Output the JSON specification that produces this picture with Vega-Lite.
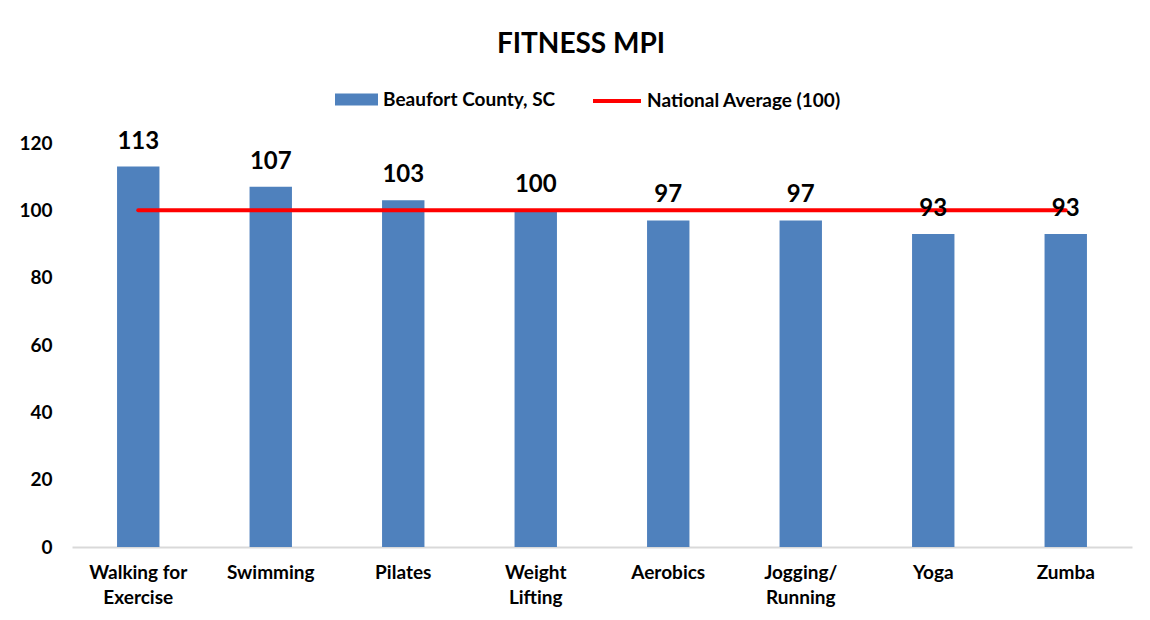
{
  "$schema": "https://vega.github.io/schema/vega-lite/v6.json",
  "width": 1060,
  "height": 404,
  "autosize": {"type": "none"},
  "padding": {"left": 72, "top": 143, "right": 18, "bottom": 73},
  "background": "white",
  "title": {
    "text": "FITNESS MPI",
    "font": "Lato",
    "fontSize": 28,
    "fontWeight": "bold",
    "color": "#000000",
    "anchor": "middle",
    "dx": -21,
    "offset": 16
  },
  "data": {
    "values": [
      {"activity": "Walking for Exercise", "mpi": 113, "national": 100},
      {"activity": "Swimming", "mpi": 107, "national": 100},
      {"activity": "Pilates", "mpi": 103, "national": 100},
      {"activity": "Weight Lifting", "mpi": 100, "national": 100},
      {"activity": "Aerobics", "mpi": 97, "national": 100},
      {"activity": "Jogging/Running", "mpi": 97, "national": 100},
      {"activity": "Yoga", "mpi": 93, "national": 100},
      {"activity": "Zumba", "mpi": 93, "national": 100}
    ]
  },
  "encoding": {
    "x": {
      "field": "activity",
      "type": "nominal",
      "sort": null,
      "scale": {"paddingInner": 0.68, "paddingOuter": 0.34},
      "axis": {
        "title": null,
        "labelAngle": 0,
        "labelFont": "Lato",
        "labelFontSize": 19,
        "labelFontWeight": "bold",
        "labelColor": "#000000",
        "labelPadding": 16,
        "labelLineHeight": 25,
        "labelBaseline": "top",
        "labelLimit": 300,
        "ticks": false,
        "domainColor": "#D9D9D9",
        "domainWidth": 2,
        "labelExpr": "datum.value == 'Walking for Exercise' ? ['Walking for', 'Exercise'] : datum.value == 'Weight Lifting' ? ['Weight', 'Lifting'] : datum.value == 'Jogging/Running' ? ['Jogging/', 'Running'] : datum.value"
      }
    }
  },
  "layer": [
    {
      "mark": {"type": "bar", "fill": "#4F81BD"},
      "encoding": {
        "y": {
          "field": "mpi",
          "type": "quantitative",
          "scale": {"domain": [0, 120], "nice": false},
          "axis": {
            "title": null,
            "values": [0, 20, 40, 60, 80, 100, 120],
            "grid": false,
            "domain": false,
            "ticks": false,
            "labelFont": "Lato",
            "labelFontSize": 19,
            "labelFontWeight": "bold",
            "labelColor": "#000000",
            "labelPadding": 20
          }
        },
        "fill": {
          "datum": "Beaufort County, SC",
          "type": "nominal",
          "scale": {"range": ["#4F81BD"]},
          "legend": {
            "title": null,
            "orient": "none",
            "legendX": 263,
            "legendY": -65,
            "padding": 0,
            "symbolType": "M-1,-0.28H1V0.28H-1Z",
            "symbolSize": 1849,
            "symbolStrokeWidth": 0,
            "labelFont": "Lato",
            "labelFontSize": 19,
            "labelFontWeight": "bold",
            "labelColor": "#000000",
            "labelOffset": 5,
            "labelLimit": 400
          }
        }
      }
    },
    {
      "mark": {"type": "line", "strokeWidth": 4, "strokeCap": "round"},
      "encoding": {
        "y": {"field": "national", "type": "quantitative"},
        "stroke": {
          "datum": "National Average (100)",
          "type": "nominal",
          "scale": {"range": ["#FF0000"]},
          "legend": {
            "title": null,
            "orient": "none",
            "legendX": 519,
            "legendY": -68,
            "padding": 0,
            "symbolType": "stroke",
            "symbolSize": 2304,
            "symbolStrokeWidth": 4,
            "labelFont": "Lato",
            "labelFontSize": 19,
            "labelFontWeight": "bold",
            "labelColor": "#000000",
            "labelOffset": 4,
            "labelLimit": 400
          }
        }
      }
    },
    {
      "mark": {
        "type": "text",
        "font": "Lato",
        "fontSize": 24,
        "fontWeight": "bold",
        "color": "#000000",
        "baseline": "alphabetic",
        "dy": -18
      },
      "encoding": {
        "y": {"field": "mpi", "type": "quantitative"},
        "text": {"field": "mpi", "type": "quantitative"}
      }
    }
  ],
  "config": {
    "view": {"stroke": null}
  }
}
